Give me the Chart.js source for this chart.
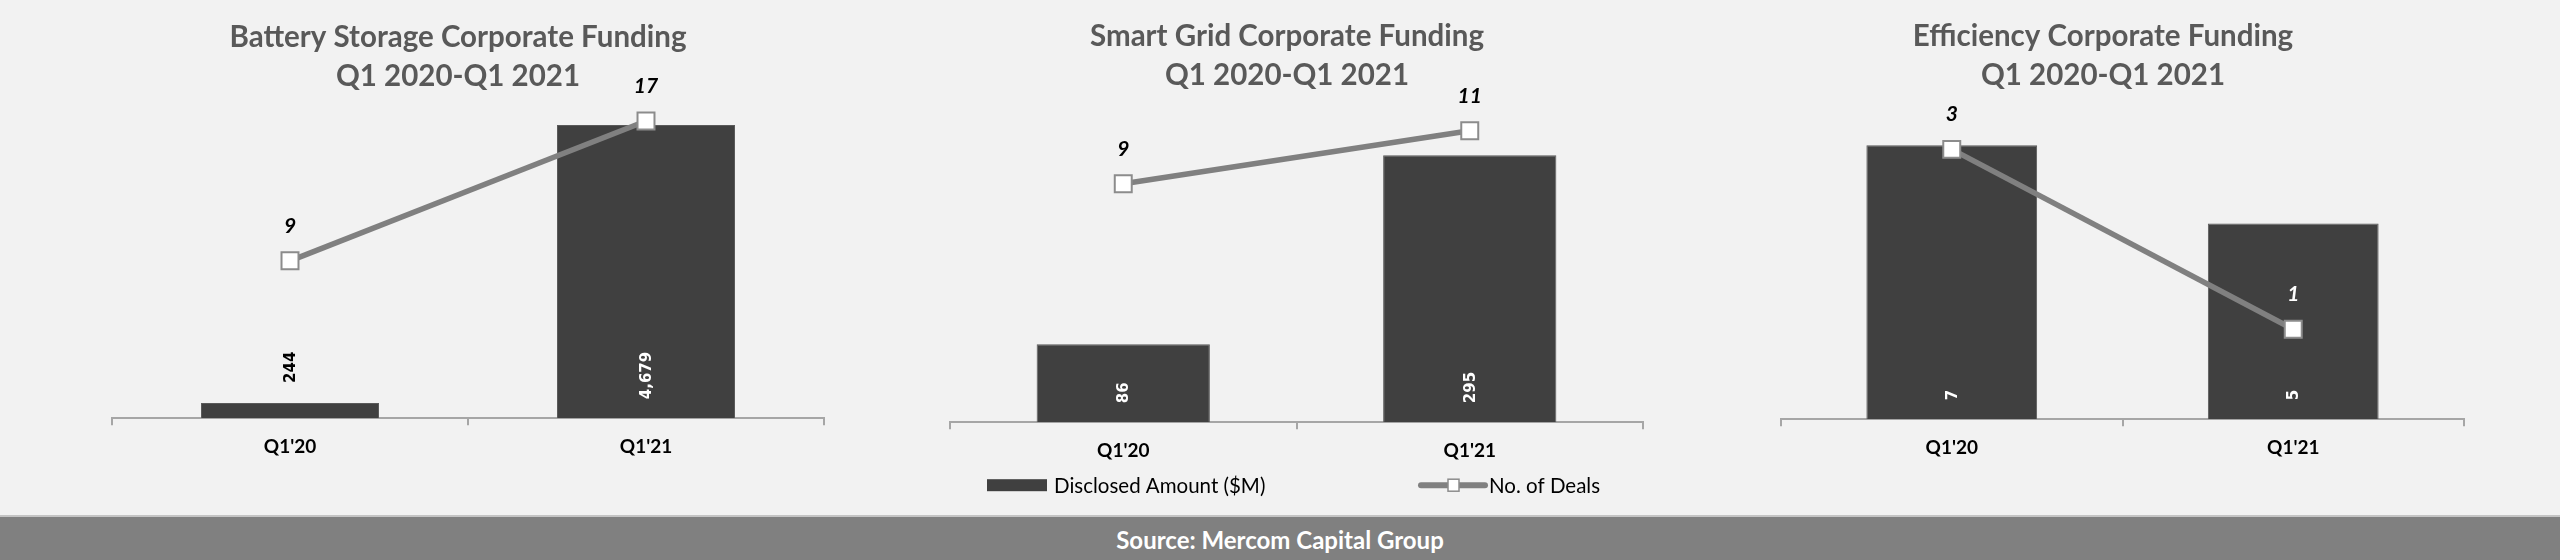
<!DOCTYPE html>
<html>
<head>
<meta charset="utf-8">
<title>Corporate Funding Q1 2020-Q1 2021</title>
<script src="https://cdn.jsdelivr.net/npm/chart.js@4.4.1/dist/chart.umd.min.js"></script>
<style>
    body {
        margin: 0;
        width: 2560px;
        height: 560px;
        background: #f2f2f2;
        position: relative;
        overflow: hidden;
        font-family: Lato, "Open Sans", sans-serif;
    }
    canvas {
        position: absolute;
        top: 0;
    }
    .source {
        position: absolute;
        left: 0;
        top: 515px;
        width: 2560px;
        height: 43px;
        background: #808080;
        border-top: 2px solid #c4c4c4;
        color: #ffffff;
        font-weight: bold;
        font-size: 24px;
        line-height: 45px;
        text-align: center;
    }
</style>
</head>
<body>
<canvas id="batteryChart" width="860" height="516" style="left:0px"></canvas>
<canvas id="gridChart" width="850" height="516" style="left:860px"></canvas>
<canvas id="efficiencyChart" width="850" height="516" style="left:1710px"></canvas>
<div class="source">Source: Mercom Capital Group</div>

<script>
// Chart data
const categories = ["Q1'20", "Q1'21"];

const batteryAmount = [244, 4679];
const batteryDeals = [9, 17];

const gridAmount = [86, 295];
const gridDeals = [9, 11];

const efficiencyAmount = [7, 5];
const efficiencyDeals = [3, 1];

// axis limits for each panel (amount axis, deals axis)
const batteryLimits = [5080, 18.2];
const gridLimits = [357, 12.2];
const efficiencyLimits = [8.18, 3.56];

const seriesNames = ['Disclosed Amount ($M)', 'No. of Deals'];

const BAR_COLOR = '#404040';
const LINE_COLOR = '#808080';

// Value labels: rotated amounts on bars, italic deal counts above markers
const valueLabels = {
    id: 'valueLabels',
    afterDatasetsDraw(chart) {
        const ctx = chart.ctx;
        const barMeta = chart.getDatasetMeta(1);
        const lineMeta = chart.getDatasetMeta(0);
        const amounts = chart.data.datasets[1].data;
        const deals = chart.data.datasets[0].data;

        ctx.save();
        ctx.font = 'bold 15px "DejaVu Sans"';
        barMeta.data.forEach((bar, i) => {
            const text = amounts[i].toLocaleString('en-US');
            const w = ctx.measureText(text).width;
            const inside = (bar.base - bar.y) > w + 30;
            const start = inside ? bar.base - 19 : bar.y - 20;
            ctx.save();
            ctx.translate(bar.x, start);
            ctx.rotate(-Math.PI / 2);
            ctx.fillStyle = inside ? '#ffffff' : '#000000';
            ctx.textAlign = 'left';
            ctx.textBaseline = 'middle';
            ctx.fillText(text, 0, 1);
            ctx.restore();
        });

        ctx.font = 'italic bold 21px Lato';
        ctx.textAlign = 'center';
        ctx.textBaseline = 'middle';
        lineMeta.data.forEach((pt, i) => {
            const y = pt.y - 35;
            const bar = barMeta.data[i];
            ctx.fillStyle = (y > bar.y && y < bar.base) ? '#ffffff' : '#000000';
            ctx.fillText(String(deals[i]), pt.x, y);
        });
        ctx.restore();
    }
};

// Legend drawn under the middle panel
const bottomLegend = {
    id: 'bottomLegend',
    afterDraw(chart) {
        const ctx = chart.ctx;
        const y = chart.chartArea.bottom + 63;
        ctx.save();
        ctx.font = '20.5px Lato';
        ctx.textBaseline = 'middle';

        // bar item
        ctx.fillStyle = BAR_COLOR;
        ctx.fillRect(127, y - 6, 60, 12);
        ctx.fillStyle = '#000000';
        ctx.fillText(seriesNames[0], 194, y + 1);

        // line item
        ctx.strokeStyle = LINE_COLOR;
        ctx.lineWidth = 6;
        ctx.lineCap = 'round';
        ctx.beginPath();
        ctx.moveTo(561, y);
        ctx.lineTo(625, y);
        ctx.stroke();
        ctx.fillStyle = '#ffffff';
        ctx.fillRect(588, y - 6, 11, 12);
        ctx.strokeStyle = '#8c8c8c';
        ctx.lineWidth = 1.5;
        ctx.strokeRect(588, y - 6, 11, 12);
        ctx.fillStyle = '#000000';
        ctx.fillText(seriesNames[1], 629, y + 1);
        ctx.restore();
    }
};

function buildChart(canvasId, title, amounts, deals, limits, pad, withLegend) {
    const ctx = document.getElementById(canvasId).getContext('2d');
    const plugins = [valueLabels];
    if (withLegend) plugins.push(bottomLegend);

    return new Chart(ctx, {
        type: 'bar',
        data: {
            labels: categories,
            datasets: [
                {
                    type: 'line',
                    label: seriesNames[1],
                    data: deals,
                    yAxisID: 'y1',
                    order: 0,
                    borderColor: LINE_COLOR,
                    borderWidth: 5.5,
                    tension: 0,
                    pointStyle: 'rect',
                    pointRadius: 12,
                    pointBackgroundColor: '#ffffff',
                    pointBorderColor: '#8c8c8c',
                    pointBorderWidth: 2
                },
                {
                    type: 'bar',
                    label: seriesNames[0],
                    data: amounts,
                    yAxisID: 'y',
                    order: 1,
                    backgroundColor: BAR_COLOR,
                    borderColor: '#5a5a5a',
                    borderWidth: 1,
                    barPercentage: 0.5,
                    categoryPercentage: 1
                }
            ]
        },
        options: {
            responsive: false,
            animation: false,
            devicePixelRatio: 1,
            layout: {
                padding: { left: pad.left, right: pad.right, top: 0, bottom: pad.bottom }
            },
            plugins: {
                legend: { display: false },
                tooltip: { enabled: false },
                title: {
                    display: true,
                    text: [title, 'Q1 2020-Q1 2021'],
                    color: '#595959',
                    font: { family: 'Lato', size: 29.5, weight: 'bold', lineHeight: '39px' },
                    padding: { top: pad.titleTop, bottom: 4 }
                }
            },
            scales: {
                x: {
                    offset: true,
                    grid: {
                        display: true,
                        offset: true,
                        drawOnChartArea: false,
                        drawTicks: true,
                        tickLength: 7,
                        color: '#a6a6a6',
                        lineWidth: 2
                    },
                    border: { display: true, color: '#a6a6a6', width: 2 },
                    ticks: {
                        color: '#000000',
                        padding: 10,
                        font: { family: 'Lato', size: 19, weight: 'bold' }
                    }
                },
                y: {
                    position: 'left',
                    min: 0,
                    max: limits[0],
                    grid: { display: false },
                    border: { display: false },
                    ticks: { display: false },
                    afterFit: (scale) => { scale.width = pad.axis; }
                },
                y1: {
                    display: false,
                    min: 0,
                    max: limits[1]
                }
            }
        },
        plugins: plugins
    });
}

document.addEventListener('DOMContentLoaded', function() {
    buildChart('batteryChart', 'Battery Storage Corporate Funding',
        batteryAmount, batteryDeals, batteryLimits,
        { left: 92, right: 36, axis: 20, bottom: 48, titleTop: 18 }, false);

    buildChart('gridChart', 'Smart Grid Corporate Funding',
        gridAmount, gridDeals, gridLimits,
        { left: 71, right: 67, axis: 19, bottom: 44, titleTop: 17 }, true);

    buildChart('efficiencyChart', 'Efficiency Corporate Funding',
        efficiencyAmount, efficiencyDeals, efficiencyLimits,
        { left: 32, right: 96, axis: 39, bottom: 47, titleTop: 17 }, false);
});
</script>
</body>
</html>
